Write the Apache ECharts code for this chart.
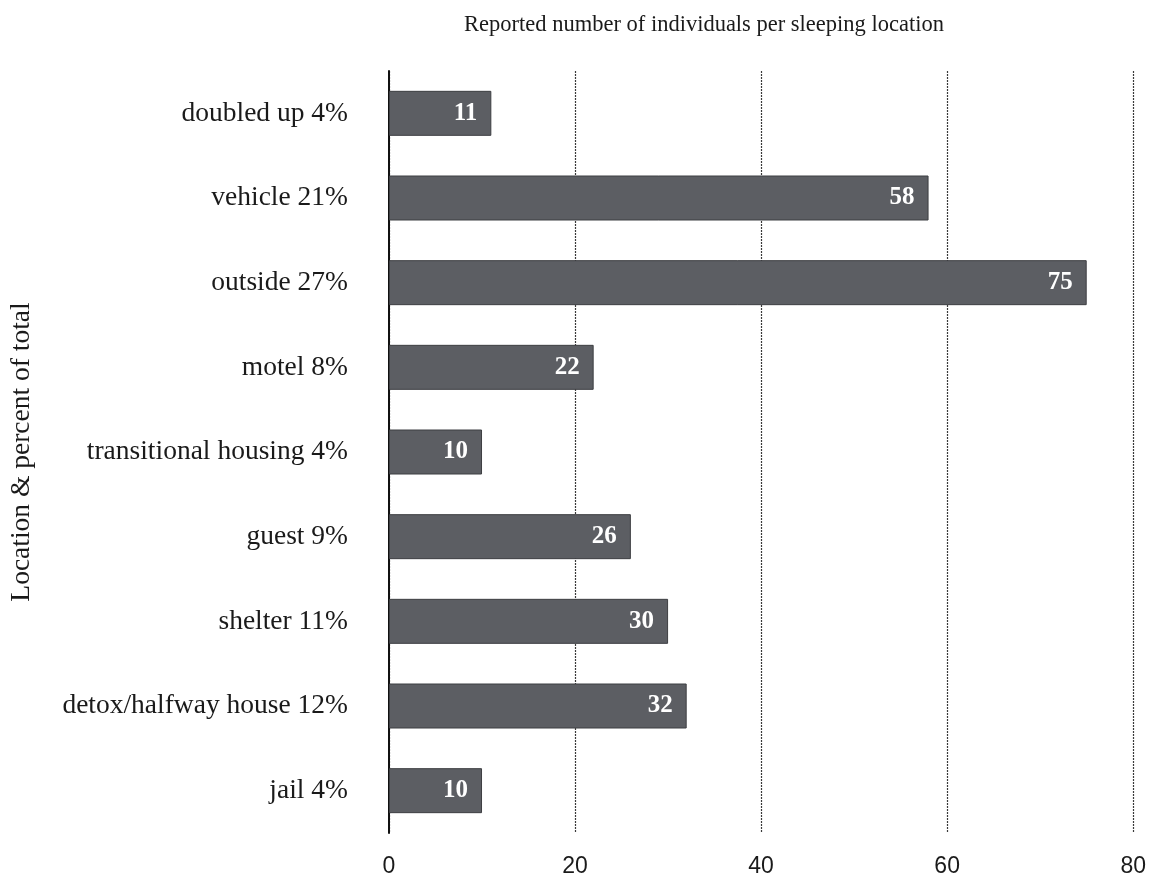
<!DOCTYPE html>
<html>
<head>
<meta charset="utf-8">
<script src="https://cdn.jsdelivr.net/npm/echarts@6/dist/echarts.min.js"></script>
<style>html,body{margin:0;padding:0;background:#fff}#c{width:1149px;height:879px}</style>
</head>
<body>
<div id="c"></div>
<script>
const categories = ["doubled up 4%", "vehicle 21%", "outside 27%", "motel 8%", "transitional housing 4%", "guest 9%", "shelter 11%", "detox/halfway house 12%", "jail 4%"];
const values = [11, 58, 75, 22, 10, 26, 30, 32, 10];
const xTicks = [0, 20, 40, 60, 80];
const titleText = "Reported number of individuals per sleeping location";
const yName = "Location & percent of total";

const serif = "'Liberation Serif', 'DejaVu Serif', serif";
const chart = echarts.init(document.getElementById('c'));
chart.setOption({
  backgroundColor: '#fff',
  animation: false,
  title: {
    text: titleText,
    left: 699, top: 9, textAlign: 'center',
    textStyle: { fontFamily: serif, fontSize: 22.5, fontWeight: 'normal', color: '#1a1a1a' }
  },
  grid: { left: 388, right: 12, top: 71, bottom: 46, containLabel: false },
  xAxis: {
    type: 'value', min: xTicks[0], max: xTicks[xTicks.length - 1], interval: 20,
    position: 'bottom',
    axisLine: { show: false }, axisTick: { show: false },
    axisLabel: { fontFamily: "'Liberation Sans', Arial, sans-serif", fontSize: 23, color: '#1a1a1a', margin: 22,
      formatter: v => xTicks.includes(v) ? String(v) : '' },
    splitLine: { show: true, lineStyle: { color: '#3a3a3a', width: 1.2, type: [2, 1] } }
  },
  yAxis: {
    type: 'category', data: categories, inverse: true,
    name: yName, nameLocation: 'middle', nameGap: 353, nameRotate: 90,
    nameTextStyle: { fontFamily: serif, fontSize: 27.5, color: '#1a1a1a' },
    axisLine: { show: true, lineStyle: { color: '#111', width: 2 } },
    axisTick: { show: false },
    axisLabel: { fontFamily: serif, fontSize: 27.5, color: '#1a1a1a', margin: 41 }
  },
  series: [{
    type: 'bar', data: values, barWidth: 45,
    itemStyle: { color: '#5c5e63', borderColor: '#3d3e42', borderWidth: 1 },
    label: { show: true, position: 'insideRight', distance: 14,
      fontFamily: serif, fontSize: 25, fontWeight: 'bold', color: '#fff' }
  }]
});
</script>
</body>
</html>
